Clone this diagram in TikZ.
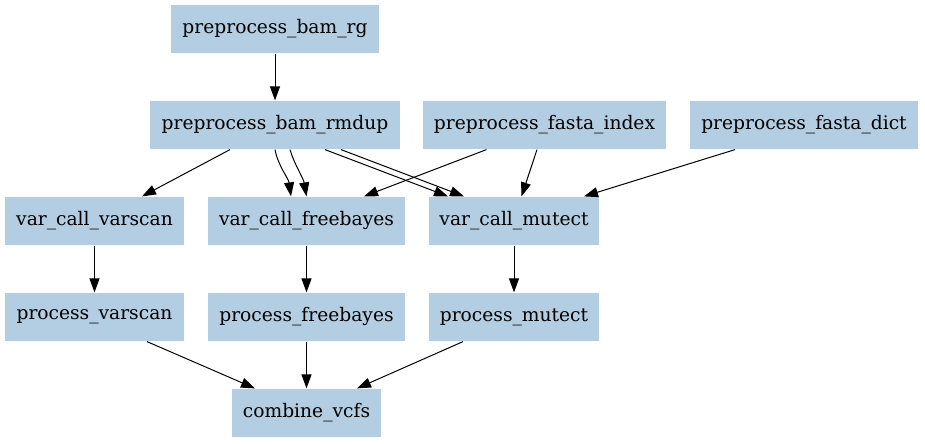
\documentclass[tikz,border=0pt]{standalone}
\usepackage{fontspec}
\setmainfont{DejaVu Serif}
\usetikzlibrary{arrows.meta,calc}
\definecolor{boxblue}{HTML}{B3CDE3}
\begin{document}
\begin{tikzpicture}[x=0.75pt,y=-0.75pt,
  box/.style={rectangle, fill=boxblue, draw=none, inner sep=0pt,
    minimum height=36.5pt, font=\fontsize{14}{16}\selectfont},
  edge/.style={draw=black, line width=0.75pt, -{Triangle[length=10.5pt,width=7.5pt]}}]
\useasboundingbox (0,0) rectangle (925,443);
% nodes
\node[box, minimum width=208*0.75pt] (rg) at (275,29) {preprocess\_bam\_rg};
\node[box, minimum width=250*0.75pt] (rmdup) at (275,125) {preprocess\_bam\_rmdup};
\node[box, minimum width=243*0.75pt] (index) at (544.5,125) {preprocess\_fasta\_index};
\node[box, minimum width=228*0.75pt] (dict) at (804,125) {preprocess\_fasta\_dict};
\node[box, minimum width=179*0.75pt] (varscan) at (94.5,221) {var\_call\_varscan};
\node[box, minimum width=197*0.75pt] (freebayes) at (306.5,221) {var\_call\_freebayes};
\node[box, minimum width=170*0.75pt] (mutect) at (514,221) {var\_call\_mutect};
\node[box, minimum width=179*0.75pt] (pvarscan) at (94.5,317) {process\_varscan};
\node[box, minimum width=197*0.75pt] (pfreebayes) at (306.5,317) {process\_freebayes};
\node[box, minimum width=170*0.75pt] (pmutect) at (514,317) {process\_mutect};
\node[box, minimum width=149*0.75pt] (combine) at (306.5,413) {combine\_vcfs};
% edges
\draw[edge] (rg.south) -- (rmdup.north);
\draw[edge] ($(rmdup.south)+(-45,0)$) -- ($(varscan.north)+(47.5,0)$);
\draw[edge] (rmdup.south) .. controls ($(rmdup.south)+(3,16)$) and ($(freebayes.north)+(-18,-18)$) .. ($(freebayes.north)+(-15.5,0)$);
\draw[edge] ($(rmdup.south)+(15,0)$) .. controls ($(rmdup.south)+(19,14)$) and ($(freebayes.north)+(-3,-18)$) .. (freebayes.north);
\draw[edge] ($(rmdup.south)+(50,0)$) -- ($(mutect.north)+(-66,0)$);
\draw[edge] ($(rmdup.south)+(66,0)$) -- ($(mutect.north)+(-50,0)$);
\draw[edge] ($(index.south)+(-58,0)$) -- ($(freebayes.north)+(57.5,0)$);
\draw[edge] ($(index.south)+(-7.5,0)$) -- ($(mutect.north)+(7.5,0)$);
\draw[edge] ($(dict.south)+(-69,0)$) -- ($(mutect.north)+(70,0)$);
\draw[edge] (varscan.south) -- (pvarscan.north);
\draw[edge] (freebayes.south) -- (pfreebayes.north);
\draw[edge] (mutect.south) -- (pmutect.north);
\draw[edge] ($(pvarscan.south)+(52.5,0)$) -- ($(combine.north)+(-51.5,0)$);
\draw[edge] (pfreebayes.south) -- (combine.north);
\draw[edge] ($(pmutect.south)+(-51,0)$) -- ($(combine.north)+(50.5,0)$);
\end{tikzpicture}
\end{document}
